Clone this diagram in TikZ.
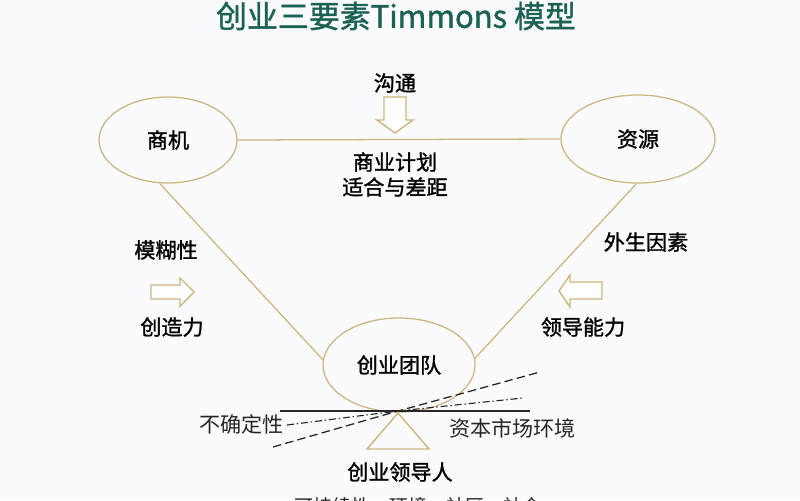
\documentclass[tikz,border=0pt]{standalone}
\usepackage{fontspec}
\setmainfont{Noto Sans CJK SC}
\newfontfamily\cjkmed{Noto Sans CJK SC}[FakeBold=1.3]
\usetikzlibrary{shapes.geometric}
\definecolor{tanline}{RGB}{204,182,128}
\definecolor{titlegreen}{RGB}{28,98,84}
\definecolor{paper}{RGB}{251,251,253}
\tikzset{
  lbl/.style={font=\cjkmed\fontsize{15}{18}\selectfont, inner sep=0pt},
  scalelbl/.style={font=\fontsize{15}{18}\selectfont, inner sep=0pt, text=black!85},
  bubble/.style={ellipse, draw=tanline, line width=0.9pt, inner sep=0pt, font=\cjkmed\fontsize{15}{18}\selectfont},
  link/.style={draw=tanline, line width=0.9pt},
  hollow/.style={draw=tanline, line width=1pt, line join=miter, fill=white}
}
\begin{document}
\begin{tikzpicture}[x=0.025cm, y=-0.025cm]
  \useasboundingbox[fill=paper] (0,0) rectangle (800,500);
  % Title
  \node[font=\cjkmed\fontsize{22}{26}\selectfont, text=titlegreen, inner sep=0pt] (title) at (396,16) {创业三要素Timmons 模型};
  % Three elements
  \node[bubble, minimum width=3.45cm, minimum height=2.15cm] (shangji) at (168,140) {商机};
  \node[bubble, minimum width=3.85cm, minimum height=2.2cm] (ziyuan) at (638,139) {资源};
  \node[bubble, minimum width=3.8cm, minimum height=2.35cm] (tuandui) at (399,365) {创业团队};
  % Triangle sides
  \draw[link] (shangji.east) -- (ziyuan.west);
  \draw[link] (shangji.-101) -- (tuandui.176);
  \draw[link] (ziyuan.-92) -- (tuandui.5);
  % Top: communication
  \node[lbl] (goutong) at (395,83) {沟通};
  \draw[hollow] (384,97) -- (406,97) -- (406,120) -- (413,120) -- (395,133) -- (377,120) -- (384,120) -- cycle;
  \node[lbl] (jihua) at (395,162) {商业计划};
  \node[lbl] (shihe) at (395,187) {适合与差距};
  % Left side
  \node[lbl] (mohu) at (166,250) {模糊性};
  \draw[hollow] (151,285) -- (180,285) -- (180,278) -- (194,292) -- (180,306) -- (180,299) -- (151,299) -- cycle;
  \node[lbl] (chuangzao) at (172,327) {创造力};
  % Right side
  \node[lbl] (waisheng) at (646,242) {外生因素};
  \draw[hollow] (602,282) -- (570,282) -- (570,275) -- (559,291) -- (570,307) -- (570,299) -- (602,299) -- cycle;
  \node[lbl] (lingdao) at (583,327) {领导能力};
  % Balance
  \coordinate (pivot) at (398,411);
  \coordinate (beamL) at (280,411);
  \coordinate (beamR) at (530,411);
  \draw[black!85, line width=0.8pt] (beamL) -- (beamR);
  \coordinate (dashL) at (273,447);
  \coordinate (dashR) at (540,372);
  \draw[black!85, line width=0.9pt, dash pattern=on 6pt off 3pt] (dashL) -- (pivot) -- (dashR);
  \coordinate (dotL) at (287,425);
  \coordinate (dotR) at (523,398);
  \draw[black!85, line width=0.8pt, dash pattern=on 5pt off 2pt on 1pt off 2pt] (dotL) -- (pivot) -- (dotR);
  \draw[tanline, line width=1pt, line join=miter] (pivot) ++(0,2) -- (429,449) -- (367,449) -- cycle;
  \node[scalelbl, anchor=east] (buqueding) at (284,424) {不确定性};
  \node[scalelbl, anchor=west] (ziben) at (449,428) {资本市场环境};
  \node[lbl] (lingdaoren) at (400,472) {创业领导人};
  \node[scalelbl, font=\fontsize{13.5}{16}\selectfont] (kechixu) at (418,506) {可持续性：环境、社区、社会};
\end{tikzpicture}
\end{document}
